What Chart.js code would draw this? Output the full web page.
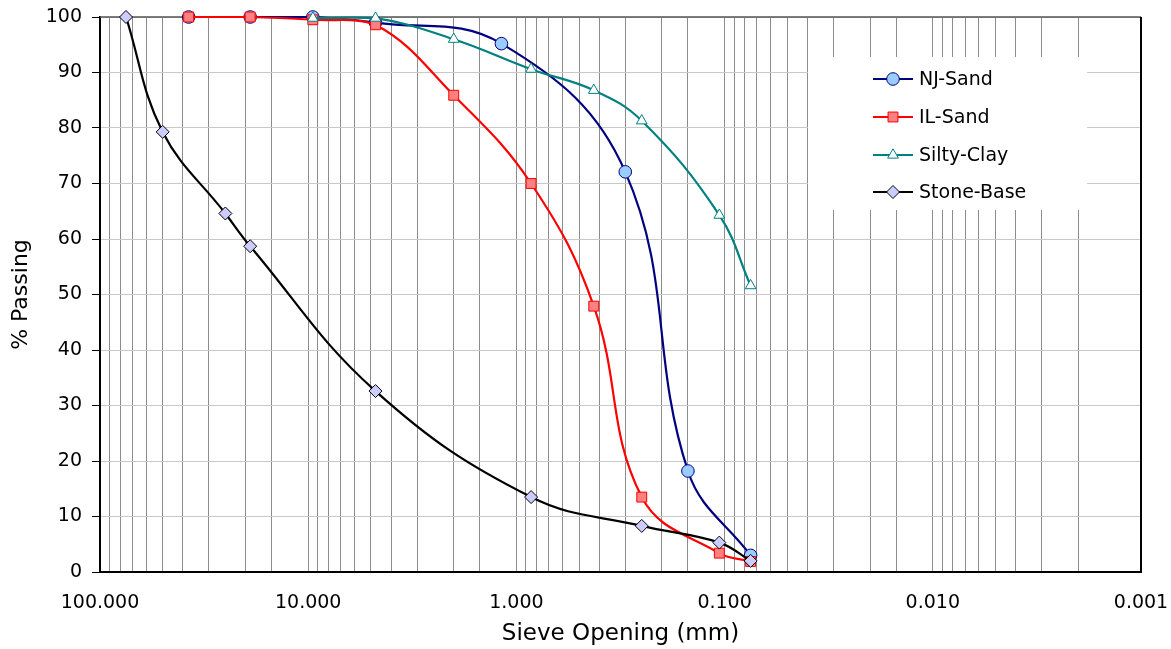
<!DOCTYPE html>
<html>
<head>
<meta charset="utf-8">
<title>Sieve Analysis</title>
<script src="https://cdn.jsdelivr.net/npm/chart.js@4.4.1/dist/chart.umd.min.js"></script>
<style>
    body { margin: 0; background: #fff; }
    #contenitore { width: 1171px; height: 649px; }
</style>
</head>
<body>
<div id="contenitore"><canvas id="grafico"></canvas></div>
<script>
// dati (apertura setaccio in mm, % passante)
var nomiSerie = ['NJ-Sand', 'IL-Sand', 'Silty-Clay', 'Stone-Base'];

var njSize = [37.5, 19, 9.5, 4.75, 1.18, 0.3, 0.15, 0.075];
var njPass = [100, 100, 100, 99, 95.2, 72.1, 18.2, 3.0];

var ilSize = [37.5, 19, 9.5, 4.75, 2.0, 0.85, 0.425, 0.25, 0.106, 0.075];
var ilPass = [100, 100, 99.5, 98.6, 85.9, 70.0, 47.9, 13.5, 3.4, 1.9];

var siltySize = [9.5, 4.75, 2.0, 0.85, 0.425, 0.25, 0.106, 0.075];
var siltyPass = [99.8, 99.8, 96.0, 90.6, 86.8, 81.3, 64.3, 51.6];

var stoneSize = [75, 50, 25, 19, 4.75, 0.85, 0.25, 0.106, 0.075];
var stonePass = [100, 79.3, 64.6, 58.7, 32.6, 13.5, 8.3, 5.3, 2.0];

var xMax = 100;
var xMin = 0.001;
var yTicks = [0, 10, 20, 30, 40, 50, 60, 70, 80, 90, 100];

var font = 'DejaVu Sans';

function punti(size, pass) {
    var arr = [];
    for (var i = 0; i < size.length; i++) {
        arr.push({ x: size[i], y: pass[i] });
    }
    return arr;
}

function serie(nome, size, pass, colore, riemp, stile, raggio, ordine) {
    return {
        label: nome,
        data: punti(size, pass),
        borderColor: colore,
        borderWidth: 2.2,
        backgroundColor: riemp,
        pointBackgroundColor: riemp,
        pointBorderColor: colore,
        pointBorderWidth: 1,
        pointStyle: stile,
        pointRadius: raggio,
        pointHoverRadius: raggio,
        tension: 0.4,
        fill: false,
        clip: false,
        order: ordine
    };
}

var datasets = [
    serie(nomiSerie[0], njSize, njPass, '#000080', '#99ccff', 'circle', 6.3, 4),
    serie(nomiSerie[1], ilSize, ilPass, '#ff0000', '#ff8080', 'rect', 7, 3),
    serie(nomiSerie[2], siltySize, siltyPass, '#008080', '#ffffff', 'triangle', 6.2, 2),
    serie(nomiSerie[3], stoneSize, stonePass, '#000000', '#ccccff', 'rectRot', 6.5, 1)
];

// bordo area grafico e legenda dentro il grafico
var cornice = {
    id: 'cornice',
    beforeDatasetsDraw: function (chart) {
        var ctx = chart.ctx;
        var a = chart.chartArea;
        ctx.save();
        ctx.strokeStyle = '#555555';
        ctx.lineWidth = 1.5;
        ctx.beginPath();
        ctx.moveTo(a.left, a.top);
        ctx.lineTo(a.right, a.top);
        ctx.stroke();
        ctx.strokeStyle = '#000000';
        ctx.lineWidth = 2;
        ctx.beginPath();
        ctx.moveTo(a.right, a.top);
        ctx.lineTo(a.right, a.bottom);
        ctx.stroke();

        // legenda
        var bx = 808, by = 57, bw = 279, bh = 153;
        ctx.fillStyle = '#ffffff';
        ctx.fillRect(bx, by, bw, bh);
        var righe = [79, 117, 155, 192];
        ctx.font = '19px "' + font + '"';
        ctx.textBaseline = 'middle';
        ctx.textAlign = 'left';
        for (var i = 0; i < chart.data.datasets.length; i++) {
            var ds = chart.data.datasets[i];
            var y = righe[i];
            ctx.strokeStyle = ds.borderColor;
            ctx.lineWidth = 2.2;
            ctx.beginPath();
            ctx.moveTo(873, y);
            ctx.lineTo(913, y);
            ctx.stroke();
            ctx.fillStyle = ds.pointBackgroundColor;
            ctx.strokeStyle = ds.pointBorderColor;
            ctx.lineWidth = 1;
            Chart.helpers.drawPoint(ctx, { pointStyle: ds.pointStyle, radius: ds.pointRadius, borderWidth: 1, rotation: 0 }, 893, y);
            ctx.fillStyle = '#000000';
            ctx.fillText(ds.label, 919, y + 1);
        }
        ctx.restore();
    }
};

var chartSieve = new Chart(document.getElementById('grafico'), {
    type: 'line',
    data: { datasets: datasets },
    plugins: [cornice],
    options: {
        responsive: true,
        maintainAspectRatio: false,
        animation: false,
        layout: { padding: { top: 17, right: 30, bottom: 0, left: 0 } },
        plugins: {
            legend: { display: false },
            tooltip: { enabled: false }
        },
        scales: {
            x: {
                type: 'logarithmic',
                reverse: true,
                min: xMin,
                max: xMax,
                afterFit: function (scale) {
                    scale.height = 77;
                    scale.paddingLeft = 0;
                    scale.paddingRight = 0;
                },
                border: { color: '#000000', width: 2 },
                grid: { color: '#8c8c8c', lineWidth: 1, drawTicks: false },
                ticks: {
                    autoSkip: false,
                    maxRotation: 0,
                    padding: 20,
                    color: '#000000',
                    font: { family: font, size: 19 },
                    callback: function (value) {
                        var l = Math.log10(value);
                        if (Math.abs(l - Math.round(l)) < 1e-6) {
                            return Number(value).toFixed(3);
                        }
                        return '';
                    }
                },
                title: {
                    display: true,
                    text: 'Sieve Opening (mm)',
                    color: '#000000',
                    font: { family: font, size: 23 },
                    padding: { top: 0, bottom: 1 }
                }
            },
            y: {
                min: 0,
                max: 100,
                afterFit: function (scale) {
                    scale.width = 100;
                    scale.paddingTop = 0;
                    scale.paddingBottom = 0;
                },
                afterBuildTicks: function (scale) {
                    scale.ticks = yTicks.map(function (v) { return { value: v }; });
                },
                border: { color: '#000000', width: 2 },
                grid: { color: '#c8c8c8', lineWidth: 1, tickColor: '#000000', tickLength: 8 },
                ticks: {
                    padding: 10,
                    color: '#000000',
                    font: { family: font, size: 19 }
                },
                title: {
                    display: true,
                    text: '% Passing',
                    color: '#000000',
                    font: { family: font, size: 22 },
                    padding: { top: 8, bottom: 0 }
                }
            }
        }
    }
});
</script>
</body>
</html>
